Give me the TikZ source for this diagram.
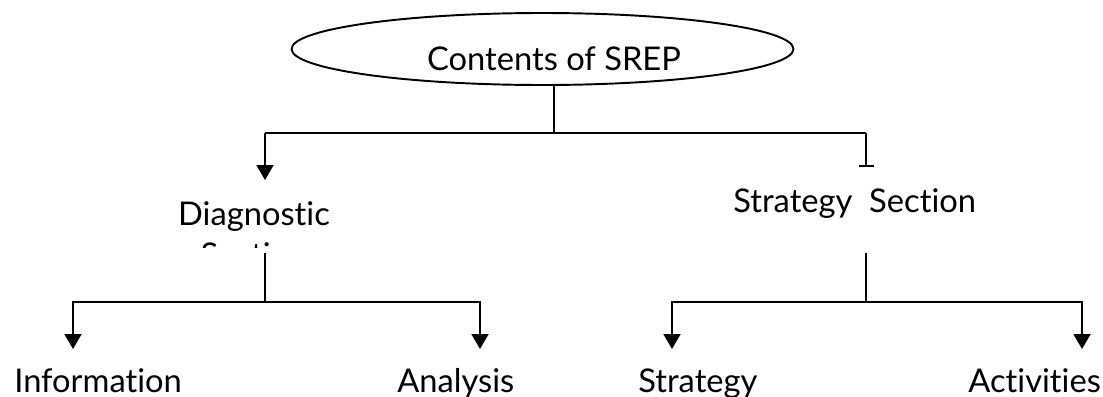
\documentclass[tikz,border=0pt]{standalone}
\usepackage{fontspec}
\setmainfont{Lato}[Ligatures={NoCommon,NoContextual}]
\usetikzlibrary{arrows.meta}
\usetikzlibrary{shapes.geometric}
\usetikzlibrary{positioning}

\tikzset{
  branch/.style={line width=1.1pt},
  down/.style={branch,-{Triangle[width=0.34cm,length=0.3cm]}},
  stop/.style={branch,-{Bar[width=0.3cm]}},
  lbl/.style={inner sep=0pt,anchor=base west,font=\fontsize{18.6}{23.3}\selectfont}
}

\begin{document}
\begin{tikzpicture}[x=0.02cm,y=-0.02cm]
  \useasboundingbox (0,0) rectangle (1103,396);
  \node[draw,ellipse,line width=1.1pt,minimum width=10.04cm,minimum height=1.44cm,inner sep=0pt] (top) at (542.5,49){};
  \node[lbl,anchor=base] (toptxt) at (554,70){Contents of SREP};
  \coordinate (fork) at (554,133);
  \coordinate (forkL) at (265,133);
  \coordinate (forkR) at (866,133);
  \coordinate (endL) at (265,180);
  \coordinate (endR) at (866,167);
  \begin{scope}
    \clip (0,0) rectangle (1103,247.5);
    \node[lbl,anchor=base,align=center] (diag) at (254,266){Diagnostic\\Section};
  \end{scope}
  \node[lbl] (strat) at (733,212){Strategy\ \ Section};
  \coordinate (diagdown) at (265,253);
  \coordinate (stratdown) at (866,253);
  \coordinate (subL) at (265,302);
  \coordinate (subR) at (866,302);
  \node[lbl] (info) at (14,392){Information};
  \node[lbl] (anal) at (397,392){Analysis};
  \node[lbl] (strg) at (638,392){Strategy};
  \node[lbl] (actv) at (968,392){Activities};
  \coordinate (infoTip) at (73,349);
  \coordinate (analTip) at (480,349);
  \coordinate (strgTip) at (672,349);
  \coordinate (actvTip) at (1082,349);
  % top level
  \draw[branch](toptxt |- top.south)--(fork);
  \draw[branch](forkL)--(forkR);
  \draw[down](forkL)--(endL);
  \draw[stop](forkR)--(endR);
  % diagnostic side
  \draw[branch](diagdown)--(subL);
  \draw[down](subL)-|(infoTip);
  \draw[down](subL)-|(analTip);
  % strategy side
  \draw[branch](stratdown)--(subR);
  \draw[down](subR)-|(strgTip);
  \draw[down](subR)-|(actvTip);
\end{tikzpicture}
\end{document}
